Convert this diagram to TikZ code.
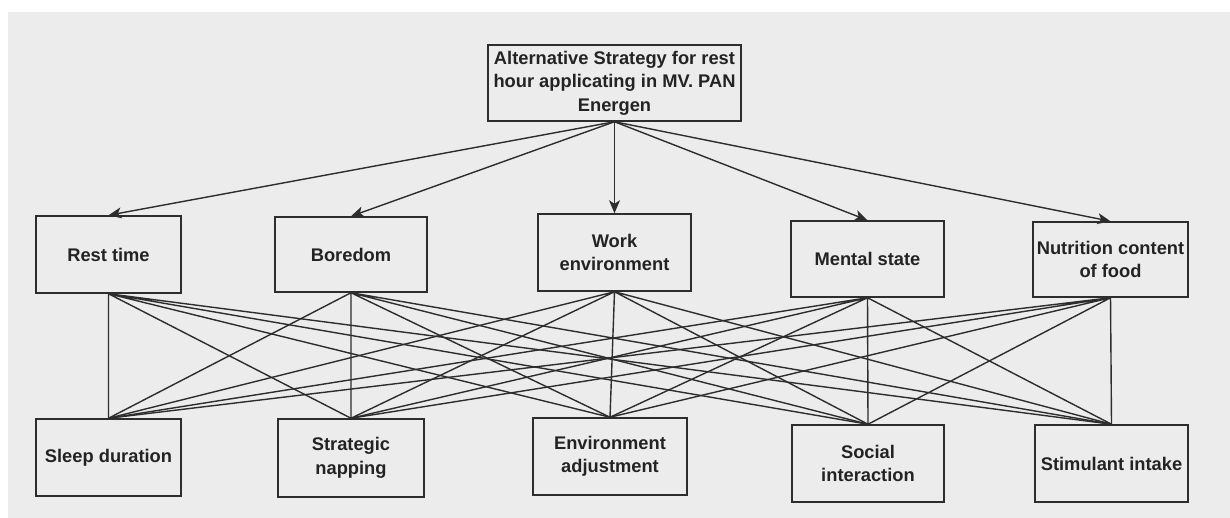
\documentclass[tikz,border=0pt]{standalone}
\usepackage{fontspec}
\setmainfont{Liberation Sans}
\usetikzlibrary{arrows.meta}
\definecolor{bggray}{RGB}{236,236,236}
\definecolor{linegray}{RGB}{45,45,45}
\definecolor{textgray}{RGB}{35,35,35}
\begin{document}
\begin{tikzpicture}[x=1pt, y=1pt,
    box/.style={draw=linegray, line width=1.5pt, inner sep=1pt, align=center,
      text=textgray, font=\bfseries\fontsize{18.3}{23.5}\selectfont},
    link/.style={draw=linegray, line width=1.4pt},
    goal/.style={link, -{Stealth[length=13pt, width=11pt, inset=3.5pt]}}]
  \useasboundingbox (0,0) rectangle (1230,518);
  \fill[white] (0,0) rectangle (1230,518);
  \fill[bggray] (8,0) rectangle (1230,506);

  % Goal
  \node[box, minimum width=253pt, minimum height=76pt] (top) at (614.5,435)
    {Alternative Strategy for rest\\hour applicating in MV. PAN\\Energen};

  % Criteria
  \node[box, minimum width=145pt, minimum height=77pt] (c1) at (108.5,263.5) {Rest time};
  \node[box, minimum width=152pt, minimum height=75pt] (c2) at (351,263.5) {Boredom};
  \node[box, minimum width=153pt, minimum height=77pt] (c3) at (614.5,265.5) {Work\\environment};
  \node[box, minimum width=153pt, minimum height=76pt] (c4) at (867.5,259) {Mental state};
  \node[box, minimum width=155pt, minimum height=75pt] (c5) at (1110.5,258.5) {Nutrition content\\of food};

  % Alternatives
  \node[box, minimum width=145pt, minimum height=77pt] (s1) at (108.5,60.5) {Sleep duration};
  \node[box, minimum width=146pt, minimum height=78pt] (s2) at (351,60) {Strategic\\napping};
  \node[box, minimum width=154pt, minimum height=77pt] (s3) at (610,61.5) {Environment\\adjustment};
  \node[box, minimum width=152pt, minimum height=77pt] (s4) at (868,54.5) {Social\\interaction};
  \node[box, minimum width=153pt, minimum height=77pt] (s5) at (1111.5,54.5) {Stimulant intake};

  % Goal to criteria
  \draw[goal] (top.south) -- (c1.north);
  \draw[goal] (top.south) -- (c2.north);
  \draw[goal] (top.south) -- (c3.north);
  \draw[goal] (top.south) -- (c4.north);
  \draw[goal] (top.south) -- (c5.north);

  % Criteria to alternatives
  \draw[link] (c1.south) -- (s1.north) (c1.south) -- (s2.north) (c1.south) -- (s3.north) (c1.south) -- (s4.north) (c1.south) -- (s5.north);
  \draw[link] (c2.south) -- (s1.north) (c2.south) -- (s2.north) (c2.south) -- (s3.north) (c2.south) -- (s4.north) (c2.south) -- (s5.north);
  \draw[link] (c3.south) -- (s1.north) (c3.south) -- (s2.north) (c3.south) -- (s3.north) (c3.south) -- (s4.north) (c3.south) -- (s5.north);
  \draw[link] (c4.south) -- (s1.north) (c4.south) -- (s2.north) (c4.south) -- (s3.north) (c4.south) -- (s4.north) (c4.south) -- (s5.north);
  \draw[link] (c5.south) -- (s1.north) (c5.south) -- (s2.north) (c5.south) -- (s3.north) (c5.south) -- (s4.north) (c5.south) -- (s5.north);
\end{tikzpicture}
\end{document}
